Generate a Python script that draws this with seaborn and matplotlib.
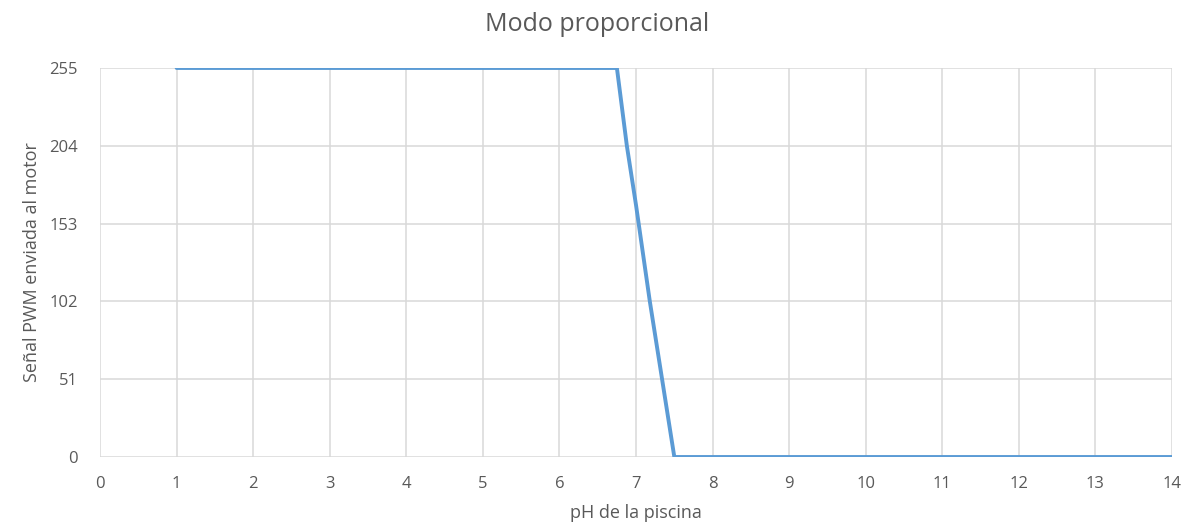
import pandas as pd
import matplotlib
matplotlib.use("Agg")
import matplotlib.pyplot as plt
import seaborn as sns

# pH readings and the PWM sent to the motor (proportional mode)
ph = [1, 2, 3, 4, 5, 6, 6.75, 6.88, 7.0, 7.18, 7.34, 7.5, 8, 9, 10, 11, 12, 13, 14]
pwm = [255, 255, 255, 255, 255, 255, 255, 204, 165, 102, 51, 0, 0, 0, 0, 0, 0, 0, 0]

x_ticks = list(range(0, 15))
y_ticks = [0, 51, 102, 153, 204, 255]

df = pd.DataFrame({"ph": ph, "pwm": pwm})

sns.set_style("white")
plt.rcParams["font.family"] = ["Open Sans", "DejaVu Sans"]
text_color = "#595959"

fig = plt.figure(figsize=(11.94, 5.23), dpi=100)
ax = fig.add_axes([0.0838, 0.1262, 0.8978, 0.7438])

sns.lineplot(data=df, x="ph", y="pwm", ax=ax, color="#5B9BD5", linewidth=2.8,
             sort=False, estimator=None)

ax.set_xlim(0, 14)
ax.set_ylim(0, 255)
ax.set_xticks(x_ticks)
ax.set_yticks(y_ticks)
ax.grid(True, color="#D9D9D9", linewidth=1.1)
ax.set_axisbelow(True)
for s in ax.spines.values():
    s.set_visible(False)
ax.tick_params(axis="both", length=0, labelsize=12, colors=text_color)
ax.tick_params(axis="x", pad=14)
ax.tick_params(axis="y", pad=16)

ax.set_xlabel("pH de la piscina", fontsize=13, color=text_color, labelpad=8)
ax.set_ylabel("Señal PWM enviada al motor", fontsize=13, color=text_color, labelpad=6)
fig.suptitle("Modo proporcional", fontsize=18, color=text_color, y=0.978)

fig.savefig("out.png", dpi=100)
